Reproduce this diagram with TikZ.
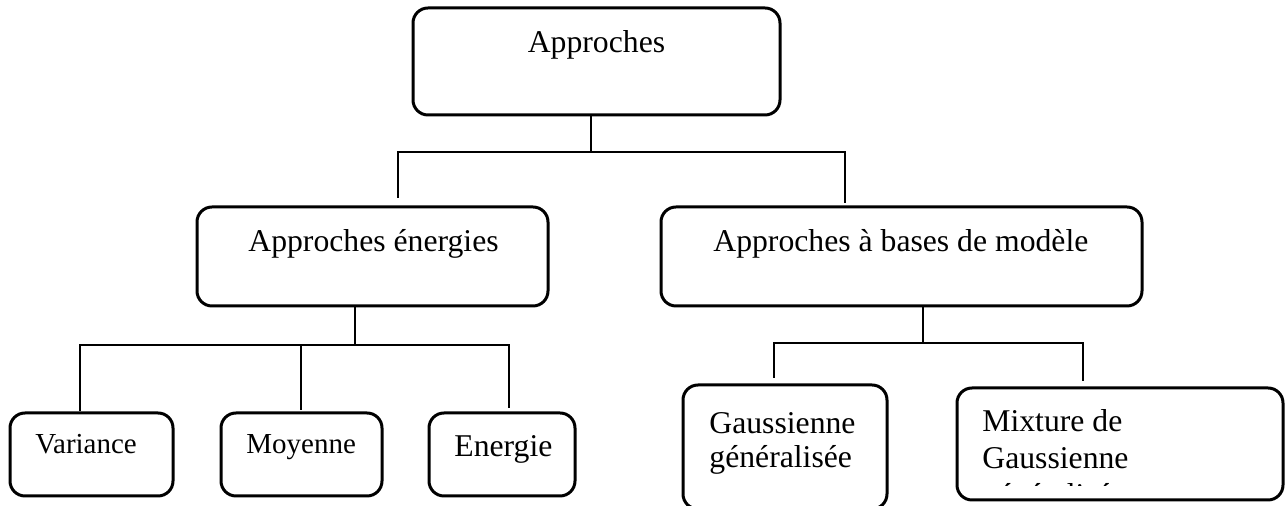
\documentclass[tikz,border=0pt]{standalone}
\usepackage{fontspec}
\setmainfont{Liberation Serif}
\begin{document}
\begin{tikzpicture}[x=0.5pt,y=-0.5pt,
  box/.style={draw=black, line width=1.5pt, rounded corners=7.5pt, inner sep=0pt, fill=white},
  link/.style={draw=black, line width=1.4pt},
  lbl/.style={inner sep=0pt, font=\fontsize{15.85}{19}\selectfont},
  lblsmall/.style={inner sep=0pt, font=\fontsize{14.5}{17}\selectfont}]
\useasboundingbox (0,0) rectangle (1287,506);
\clip (0,0) rectangle (1287,506);
\fill[white] (0,0) rectangle (1287,506);

% boxes
\node[box, minimum width=183.5pt, minimum height=53.5pt] (top) at (596.5,61.5) {};
\node[box, minimum width=175.5pt, minimum height=49.5pt] (ener) at (372.5,256.5) {};
\node[box, minimum width=240.5pt, minimum height=49.5pt] (model) at (901.5,256.5) {};
\node[box, minimum width=81.5pt, minimum height=41.5pt] (var) at (91.5,454.5) {};
\node[box, minimum width=80.5pt, minimum height=41.5pt] (moy) at (301.5,454.5) {};
\node[box, minimum width=73pt, minimum height=41.5pt] (enr) at (502,454.5) {};
\node[box, minimum width=102pt, minimum height=62pt] (gauss) at (785,447) {};
\node[box, minimum width=163pt, minimum height=56pt] (mix) at (1120,444) {};

% texts
\node[lbl, anchor=base] (ttop) at (596.5,53) {Approches};
\node[lbl, anchor=base west] (tener) at (248,252) {Approches énergies};
\node[lbl, anchor=base west] (tmodel) at (713,252) {Approches à bases de modèle};
\node[lblsmall, anchor=base west] (tvar) at (35,454) {Variance};
\node[lblsmall, anchor=base west] (tmoy) at (246,454) {Moyenne};
\node[lbl, anchor=base west] (tenr) at (454,457) {Energie};
\node[lbl, anchor=base west] (tg1) at (709,434) {Gaussienne};
\node[lbl, anchor=base west] (tg2) at (709,468) {généralisée};
\node[lbl, anchor=base west] (tm1) at (982,432) {Mixture de};
\node[lbl, anchor=base west] (tm2) at (982,469) {Gaussienne};
\begin{scope}
  \clip (957,388) rectangle (1283,486);
  \node[lbl, anchor=base west] (tm3) at (982,506) {généralisée};
\end{scope}

% junction coordinates
\coordinate (j0) at (591,152);
\coordinate (jl) at (398,152);
\coordinate (jr) at (845,152);
\coordinate (dl) at (398,198);
\coordinate (dr) at (845,203);

\coordinate (s1) at (355,345);
\coordinate (h1l) at (80,345);
\coordinate (h1m) at (301,345);
\coordinate (h1r) at (509,345);
\coordinate (d1l) at (80,411);
\coordinate (d1m) at (301,410);
\coordinate (d1r) at (509,408);

\coordinate (s2) at (923,343);
\coordinate (h2l) at (774,343);
\coordinate (h2r) at (1083,343);
\coordinate (d2l) at (774,378);
\coordinate (d2r) at (1083,381);

% connectors
\draw[link] (top.south -| j0) -- (j0);
\draw[link] (dl) -- (jl) -- (jr) -- (dr);

\draw[link] (ener.south -| s1) -- (s1);
\draw[link] (d1l) -- (h1l) -- (h1r) -- (d1r);
\draw[link] (h1m) -- (d1m);

\draw[link] (model.south -| s2) -- (s2);
\draw[link] (d2l) -- (h2l) -- (h2r) -- (d2r);
\end{tikzpicture}
\end{document}
